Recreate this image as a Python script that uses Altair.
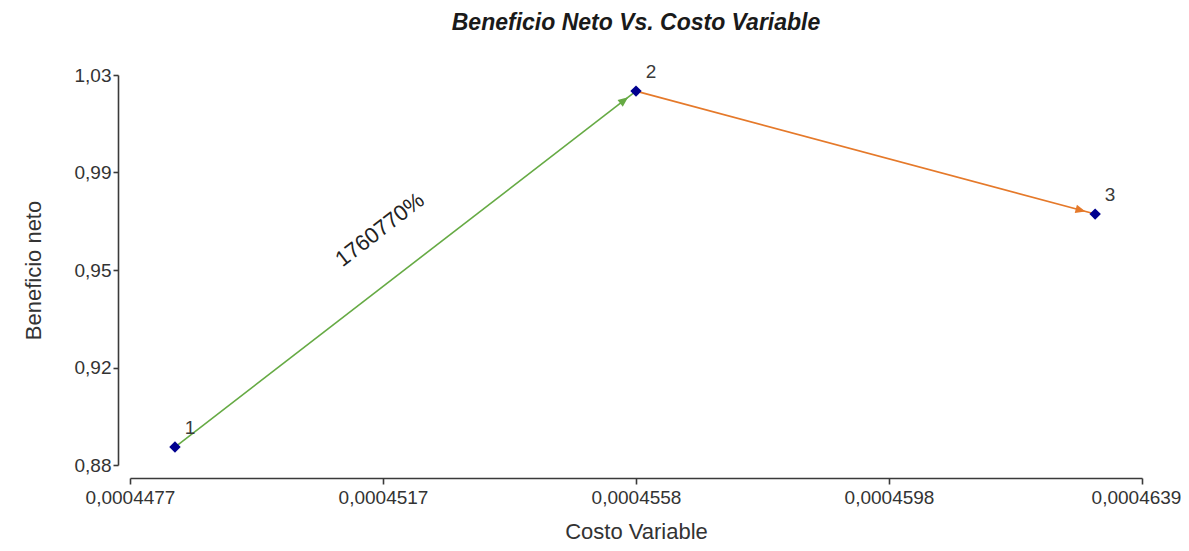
import json, math
import altair as alt
import pandas as pd

# ---- data ----
point_ids = ["1", "2", "3"]
costo_variable = [0.00044842, 0.0004558, 0.00046315]
beneficio_neto = [0.8869, 1.0238, 0.9765]

arrow_from = [0, 1]
arrow_to = [1, 2]
arrow_colors = ["#66aa44", "#e5792a"]

annotation_text = ["1760770%"]
annotation_x = [0.0004517]
annotation_y = [0.9705]

x_domain = [0.0004477, 0.0004639]
y_domain = [0.88, 1.03]
x_tick_values = [0.0004477, 0.00045175, 0.0004558, 0.00045985, 0.0004639]
x_tick_labels = ["0,0004477", "0,0004517", "0,0004558", "0,0004598", "0,0004639"]
y_tick_values = [0.88, 0.9175, 0.955, 0.9925, 1.03]
y_tick_labels = ["0,88", "0,92", "0,95", "0,99", "1,03"]

W, H = 1012, 390
FONT = "Liberation Sans"


def px(xv, yv):
    return ((xv - x_domain[0]) / (x_domain[1] - x_domain[0]) * W,
            H - (yv - y_domain[0]) / (y_domain[1] - y_domain[0]) * H)


pts = pd.DataFrame({"id": point_ids, "x": costo_variable, "y": beneficio_neto})

rows = []
for a, b, c in zip(arrow_from, arrow_to, arrow_colors):
    x0, y0 = px(costo_variable[a], beneficio_neto[a])
    x1, y1 = px(costo_variable[b], beneficio_neto[b])
    ang = math.degrees(math.atan2(y1 - y0, x1 - x0)) % 360
    rows.append({"x": costo_variable[a], "y": beneficio_neto[a],
                 "x2": costo_variable[b], "y2": beneficio_neto[b],
                 "color": c, "angle": ang})
arrows = pd.DataFrame(rows)

ann = pd.DataFrame({"t": annotation_text, "x": annotation_x, "y": annotation_y,
                    "angle": [rows[0]["angle"]]})

xs = alt.Scale(domain=x_domain, nice=False, zero=False)
ys = alt.Scale(domain=y_domain, nice=False, zero=False)

x_axis = alt.Axis(
    values=x_tick_values,
    labelExpr=f"{json.dumps(x_tick_labels)}[indexof({json.dumps(x_tick_values)}, datum.value)]",
    offset=13, grid=False, domainColor="#3a3a3a", domainWidth=1.6,
    tickColor="#3a3a3a", tickWidth=1.6, tickSize=6, labelPadding=4,
    labelFont=FONT, labelFontSize=19, labelColor="#333333", labelFlush=False,
    labelOverlap=False,
    labelOffset={"condition": {"test": f"datum.value >= {x_tick_values[-1]}", "value": -6},
                 "value": 0},
    title="Costo Variable", titleFont=FONT, titleFontSize=22,
    titleFontWeight="normal", titleColor="#333333", titleY=60,
    titleBaseline="alphabetic",
)
y_axis = alt.Axis(
    values=y_tick_values,
    labelExpr=f"{json.dumps(y_tick_labels)}[indexof({json.dumps(y_tick_values)}, datum.value)]",
    offset=12, grid=False, domainColor="#3a3a3a", domainWidth=1.6,
    tickColor="#3a3a3a", tickWidth=1.6, tickSize=5, labelPadding=2,
    labelFont=FONT, labelFontSize=19, labelColor="#333333", labelFlush=False,
    labelOverlap=False, title="Beneficio neto", titleFont=FONT, titleFontSize=22,
    titleFontWeight="normal", titleColor="#333333", titleX=-85, titleY=H / 2,
    titleBaseline="middle", titleAngle=270,
)

lines = alt.Chart(arrows).mark_rule(strokeWidth=1.6).encode(
    x=alt.X("x:Q", scale=xs, axis=x_axis),
    y=alt.Y("y:Q", scale=ys, axis=y_axis),
    x2="x2:Q", y2="y2:Q",
    color=alt.Color("color:N", scale=None),
)

heads = alt.Chart(arrows).mark_point(
    shape="M-2,0L-4,-0.85L-4,0.85Z", filled=True, size=100, opacity=1
).encode(
    x=alt.X("x2:Q", scale=xs), y=alt.Y("y2:Q", scale=ys),
    color=alt.Color("color:N", scale=None),
    angle=alt.Angle("angle:Q", scale=None),
)

dots = alt.Chart(pts).mark_point(
    shape="diamond", filled=True, size=130, color="#00008f", opacity=1
).encode(x=alt.X("x:Q", scale=xs), y=alt.Y("y:Q", scale=ys))

labels = alt.Chart(pts).mark_text(
    dx=15, dy=-19, font=FONT, fontSize=19, color="#3a3a3a"
).encode(x=alt.X("x:Q", scale=xs), y=alt.Y("y:Q", scale=ys), text="id:N")

note = alt.Chart(ann).mark_text(font=FONT, fontSize=22, color="#222222").encode(
    x=alt.X("x:Q", scale=xs), y=alt.Y("y:Q", scale=ys), text="t:N",
    angle=alt.Angle("angle:Q", scale=None),
)

chart = alt.layer(lines, heads, dots, labels, note).properties(
    width=W, height=H,
    autosize=alt.AutoSizeParams(type="none"),
    padding={"left": 122, "top": 67, "right": 39, "bottom": 78},
    title=alt.TitleParams(
        "Beneficio Neto Vs. Costo Variable", font=FONT, fontSize=23,
        fontStyle="italic", fontWeight="bold", color="#1a1a1a",
        anchor="middle", frame="group", offset=10, baseline="alphabetic",
    ),
).configure_view(stroke=None)

chart.save("out.html", embed_options={"renderer": "svg", "actions": False})
